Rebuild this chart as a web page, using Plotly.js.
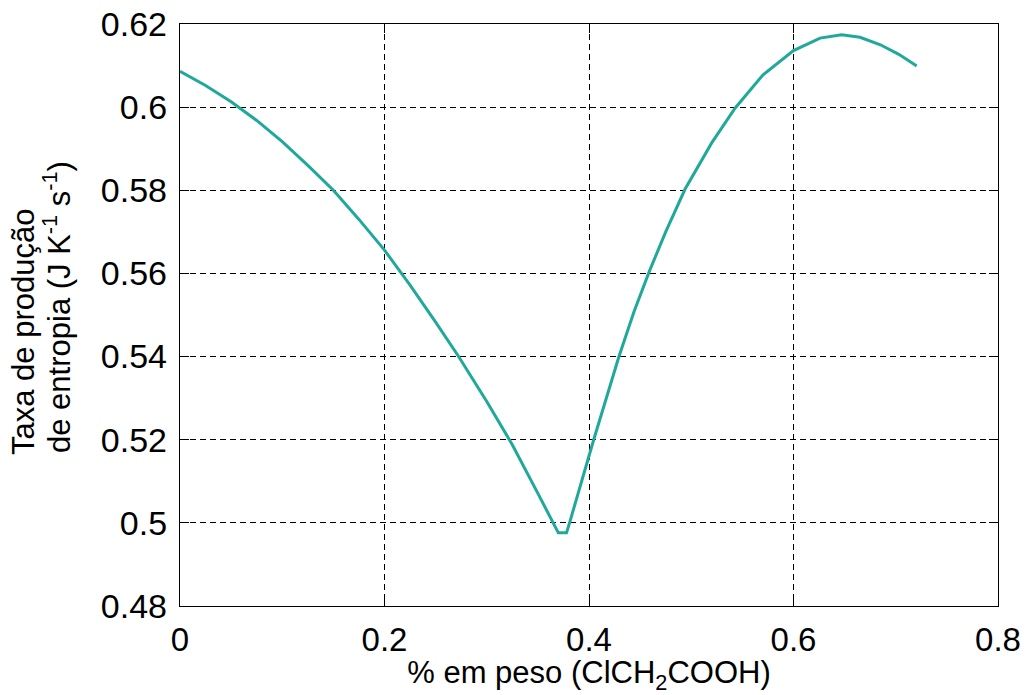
<!DOCTYPE html>
<html>
<head>
<meta charset="utf-8">
<script src="https://cdn.plot.ly/plotly-3.0.1.min.js"></script>
<style>html,body{margin:0;padding:0;background:#fff;}#chart{width:1030px;height:695px;}</style>
</head>
<body>
<div id="chart"></div>
<script>
// Data
const pesoPct = [0, 0.025, 0.05, 0.075, 0.1, 0.125, 0.15, 0.175, 0.2, 0.225, 0.25, 0.272, 0.3, 0.325, 0.35, 0.3635, 0.370,
                 0.378, 0.381, 0.4046, 0.4293, 0.444, 0.459, 0.475, 0.494, 0.52, 0.543, 0.57, 0.6, 0.626, 0.647, 0.665, 0.685, 0.703, 0.7205];
const taxaEntropia = [0.6086, 0.6052, 0.6013, 0.5968, 0.5917, 0.5860, 0.5800, 0.5730, 0.5656, 0.5572, 0.5483, 0.5402, 0.5292, 0.5188, 0.5071, 0.5006, 0.4976,
                      0.4976, 0.5000, 0.5200, 0.5400, 0.5508, 0.5605, 0.5700, 0.5803, 0.5914, 0.5998, 0.6077, 0.6136, 0.6166, 0.6174, 0.6168, 0.6150, 0.6127, 0.6099];
const xTicks = [0, 0.2, 0.4, 0.6, 0.8];
const xTickLabels = ['0', '0.2', '0.4', '0.6', '0.8'];
const yTicks = [0.48, 0.5, 0.52, 0.54, 0.56, 0.58, 0.6, 0.62];
const yTickLabels = ['0.48', '0.5', '0.52', '0.54', '0.56', '0.58', '0.6', '0.62'];
const xTitle = '% em peso (ClCH<sub>2</sub>COOH)';
const yTitleLines = ['Taxa de produção', 'de entropia (J K<sup>-1</sup> s<sup>-1</sup>)'];

const fontFam = 'Liberation Sans, Arial, sans-serif';

const trace = {
  x: pesoPct,
  y: taxaEntropia,
  type: 'scatter',
  mode: 'lines',
  line: {color: '#20a99b', width: 3},
  hoverinfo: 'x+y'
};

const axisCommon = {
  showline: true,
  linecolor: '#000',
  linewidth: 1.3,
  mirror: 'ticks',
  ticks: 'inside',
  ticklen: 9,
  tickwidth: 1.3,
  tickcolor: '#000',
  showgrid: true,
  gridcolor: '#000',
  gridwidth: 1.3,
  griddash: '6px,4px',
  zeroline: false
};

// plot area in pixels: x 180..998, y 24..606
const plotL = 180, plotW = 818, plotB = 606, plotH = 582;
const px2paperX = function (px) { return (px - plotL) / plotW; };
const px2paperY = function (py) { return (plotB - py) / plotH; };

const layout = {
  width: 1030,
  height: 695,
  paper_bgcolor: '#fff',
  plot_bgcolor: '#fff',
  margin: {l: 180, r: 32, t: 24, b: 89},
  showlegend: false,
  xaxis: Object.assign({}, axisCommon, {
    range: [0, 0.8],
    tickmode: 'array',
    tickvals: xTicks,
    ticktext: xTickLabels,
    ticklabelstandoff: 4,
    tickfont: {family: fontFam, size: 33, color: '#000'},
    title: {text: xTitle, font: {family: fontFam, size: 31, color: '#000'}, standoff: 6}
  }),
  yaxis: Object.assign({}, axisCommon, {
    range: [0.48, 0.62],
    tickmode: 'array',
    tickvals: yTicks,
    ticktext: yTickLabels,
    ticklabelstandoff: 5,
    tickfont: {family: fontFam, size: 34, color: '#000'},
    title: {text: ''}
  }),
  annotations: [
    {
      text: yTitleLines[0], textangle: -90, showarrow: false,
      xref: 'paper', yref: 'paper', x: px2paperX(23), y: px2paperY(457),
      xanchor: 'center', yanchor: 'bottom',
      font: {family: fontFam, size: 31, color: '#000'}
    },
    {
      text: yTitleLines[1], textangle: -90, showarrow: false,
      xref: 'paper', yref: 'paper', x: px2paperX(57), y: px2paperY(455),
      xanchor: 'center', yanchor: 'bottom',
      font: {family: fontFam, size: 31, color: '#000'}
    }
  ]
};

Plotly.newPlot('chart', [trace], layout, {displayModeBar: false});
</script>
</body>
</html>
